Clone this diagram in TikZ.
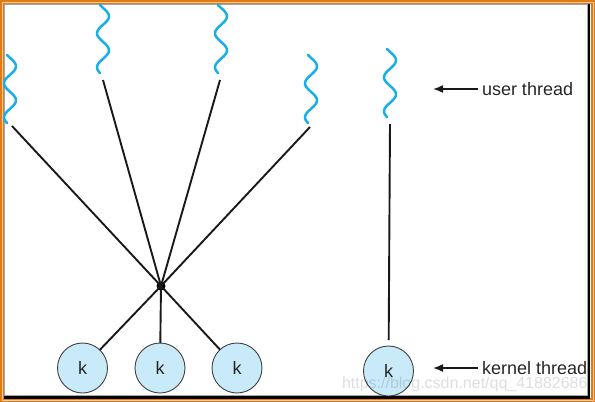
\documentclass[tikz,border=0pt]{standalone}
\usepackage{fontspec}
\setmainfont{Liberation Sans}
\usetikzlibrary{arrows.meta}
\definecolor{threadblue}{RGB}{26,174,230}
\definecolor{kernelfill}{RGB}{200,234,249}
\definecolor{frameorange}{RGB}{226,122,22}
\begin{document}
\begin{tikzpicture}[x=1pt,y=-1pt,inner sep=0pt,outer sep=0pt,
wave/.style={threadblue,line width=2.5pt,line cap=round},
link/.style={black!90,line width=1.9pt},
kthread/.style={draw=black!75,fill=kernelfill,circle,line width=0.9pt,minimum size=50pt,font=\fontsize{18}{20}\selectfont,text=black!85},
pointer/.style={-{Latex[length=10pt,width=8pt]},black!90,line width=1.6pt},
label/.style={font=\fontsize{18}{20}\selectfont,text=black!85,anchor=west}]
\useasboundingbox (0,0) rectangle (595,402);
% frame
\draw[frameorange,line width=4pt] (2,2) rectangle (593,400);
\draw[frameorange!35,line width=0.7pt] (2,2) rectangle (593,400);
\draw[black!35,line width=1pt] (4.5,4.5) rectangle (587.5,395);
\draw[black,line width=2.2pt] (589,4) -- (589,397.5) -- (4,397.5);

% user threads
\draw[wave] plot[smooth,domain=0:68,samples=50] ({10+6*sin(10.588*\x-30)},{55+\x});
\draw[wave] plot[smooth,domain=0:68,samples=50] ({103+6*sin(10.588*\x-30)},{5+\x});
\draw[wave] plot[smooth,domain=0:68,samples=50] ({221+6*sin(10.588*\x-30)},{5+\x});
\draw[wave] plot[smooth,domain=0:68,samples=50] ({311+6*sin(10.588*\x-30)},{55+\x});
\draw[wave] plot[smooth,domain=0:68,samples=50] ({390+6*sin(10.588*\x-30)},{49+\x});
\coordinate (u1) at (12,126);
\coordinate (u2) at (103,80);
\coordinate (u3) at (220,80);
\coordinate (u4) at (310,127);
\coordinate (u5) at (390,124);

% kernel threads
\draw (161,286) node[circle,fill=black,minimum size=9pt] (hub) {};
\draw (82.5,368) node[kthread] (k1) {k};
\draw (160,368) node[kthread] (k2) {k};
\draw (237,368) node[kthread] (k3) {k};
\draw (388.5,371) node[kthread] (k4) {k};

\draw[link] (u1) -- (hub.center);
\draw[link] (u2) -- (hub.center);
\draw[link] (u3) -- (hub.center);
\draw[link] (u4) -- (hub.center);
\draw[link] (hub.center) -- (k1);
\draw[link] (hub.center) -- (k2);
\draw[link] (hub.center) -- (k3);
\draw[link,shorten >=6pt] (u5) -- (k4);

% labels
\draw (482,89) node[label] (ut) {user thread};
\draw (482,368) node[label] (kt) {kernel thread};
\coordinate (uend) at (433,89);
\coordinate (kend) at (433,368);
\draw[pointer,shorten <=4pt] (ut.west) -- (uend);
\draw[pointer,shorten <=4pt] (kt.west) -- (kend);

% watermark
\draw (342,388) node[anchor=base west,font=\fontsize{16}{18}\selectfont,text=black,text opacity=0.13] (mark) {https://blog.csdn.net/qq\_41882686};
\end{tikzpicture}
\end{document}
